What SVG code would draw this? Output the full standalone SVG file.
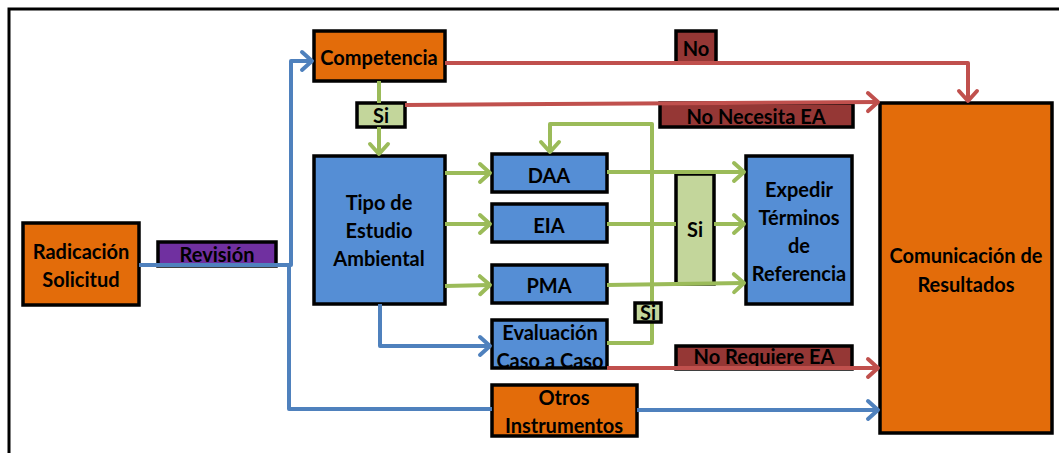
<svg xmlns="http://www.w3.org/2000/svg" width="1059" height="453" viewBox="0 0 1059 453">
  <style>
    .box { stroke: #000; stroke-width: 3.5; }
    .orange { fill: #E36C0A; }
    .blue { fill: #558ED5; }
    .lgreen { fill: #C3D69B; }
    .dred { fill: #953735; }
    .purple { fill: #7030A0; }
    text { font-family: Lato, "Liberation Sans", Arial, sans-serif; font-weight: bold; font-size: 20px; fill: #000; text-anchor: middle; dominant-baseline: central; }
    .c { fill: none; stroke-width: 4; stroke-linejoin: round; }
    .cb { stroke: #4F81BD; }
    .cg { stroke: #9BBB59; }
    .cr { stroke: #C0504D; }
  </style>
  <defs>
    <marker id="ab" markerUnits="userSpaceOnUse" markerWidth="16" markerHeight="22" refX="13" refY="11" orient="auto" overflow="visible">
      <path d="M3,2 L13,11 L3,20" fill="none" stroke="#4F81BD" stroke-width="4" stroke-linecap="round" stroke-linejoin="round"/>
    </marker>
    <marker id="ag" markerUnits="userSpaceOnUse" markerWidth="16" markerHeight="22" refX="13" refY="11" orient="auto" overflow="visible">
      <path d="M3,2 L13,11 L3,20" fill="none" stroke="#9BBB59" stroke-width="4" stroke-linecap="round" stroke-linejoin="round"/>
    </marker>
    <marker id="ar" markerUnits="userSpaceOnUse" markerWidth="16" markerHeight="22" refX="13" refY="11" orient="auto" overflow="visible">
      <path d="M3,2 L13,11 L3,20" fill="none" stroke="#C0504D" stroke-width="4" stroke-linecap="round" stroke-linejoin="round"/>
    </marker>
  </defs>

  <rect width="1059" height="453" fill="#fff"/>
  <!-- outer frame -->
  <path d="M9,453 V9 H1059" fill="none" stroke="#000" stroke-width="3"/>

  <!-- label boxes that connectors run over -->
  <g id="lbl-revision"><rect class="box purple" x="158" y="242" width="118" height="24"/><text x="217" y="254">Revisión</text></g>
  <g id="lbl-no"><rect class="box dred" x="676" y="31" width="40" height="32"/><text x="696" y="48">No</text></g>
  <g id="lbl-no-necesita"><rect class="box dred" x="660" y="103" width="193" height="24"/><text x="756" y="116">No Necesita EA</text></g>
  <g id="lbl-no-requiere"><rect class="box dred" x="676" y="346" width="176" height="23"/><text x="764" y="356">No Requiere EA</text></g>
  <g id="lbl-si-v"><rect class="box lgreen" x="676" y="174" width="38" height="110"/><text x="695" y="229">Si</text></g>

  <!-- nodes -->
  <g id="radicacion"><rect class="box orange" x="23" y="223" width="116" height="82"/><text x="81" y="251">Radicación</text><text x="81" y="279">Solicitud</text></g>
  <g id="competencia"><rect class="box orange" x="314" y="31" width="131" height="50"/><text x="379" y="57">Competencia</text></g>
  <g id="tipo"><rect class="box blue" x="314" y="156" width="131" height="148"/><text x="379" y="202">Tipo de</text><text x="379" y="230">Estudio</text><text x="379" y="258">Ambiental</text></g>
  <g id="daa"><rect class="box blue" x="492" y="154" width="115" height="38"/><text x="549" y="175">DAA</text></g>
  <g id="eia"><rect class="box blue" x="492" y="204" width="115" height="38"/><text x="549" y="225">EIA</text></g>
  <g id="pma"><rect class="box blue" x="492" y="265" width="115" height="38"/><text x="549" y="285">PMA</text></g>
  <g id="evaluacion"><rect class="box blue" x="492" y="320" width="115" height="48"/><text x="550" y="332">Evaluación</text><text x="550" y="360">Caso a Caso</text></g>
  <g id="otros"><rect class="box orange" x="492" y="385" width="145" height="51"/><text x="564" y="397">Otros</text><text x="564" y="425">Instrumentos</text></g>
  <g id="expedir"><rect class="box blue" x="746" y="156" width="106" height="148"/><text x="799" y="189">Expedir</text><text x="799" y="217">Términos</text><text x="799" y="245">de</text><text x="799" y="273">Referencia</text></g>
  <g id="comunicacion"><rect class="box orange" x="880" y="103" width="172" height="330"/><text x="966" y="255">Comunicación de</text><text x="966" y="284">Resultados</text></g>
  <g id="si-top"><rect class="box lgreen" x="357" y="103" width="48" height="24"/><text x="381" y="115">Si</text></g>

  <!-- connectors -->
  <g id="connectors">
    <path class="c cb" d="M139,265 H291 V61 H312" marker-end="url(#ab)"/>
    <path class="c cb" d="M289,265 V409 H492"/>
    <path class="c cb" d="M380,304 V346 H490" marker-end="url(#ab)"/>
    <path class="c cb" d="M637,410 H878" marker-end="url(#ab)"/>

    <path class="c cg" d="M379,81 V103"/>
    <path class="c cg" d="M379,127 V154" marker-end="url(#ag)"/>
    <path class="c cg" d="M445,173 H490" marker-end="url(#ag)"/>
    <path class="c cg" d="M445,224 H490" marker-end="url(#ag)"/>
    <path class="c cg" d="M445,286 L490,285" marker-end="url(#ag)"/>
    <path class="c cg" d="M607,343 H652 V124 H550 V152" marker-end="url(#ag)"/>
    <path class="c cg" d="M607,172 H744" marker-end="url(#ag)"/>
    <path class="c cg" d="M607,224 H676"/>
    <path class="c cg" d="M714,224 H744" marker-end="url(#ag)"/>
    <path class="c cg" d="M607,285 L744,283" marker-end="url(#ag)"/>

    <path class="c cr" d="M445,63 H968 V101" marker-end="url(#ar)"/>
    <path class="c cr" d="M405,105 L878,102" marker-end="url(#ar)"/>
    <path class="c cr" d="M607,368 H878" marker-end="url(#ar)"/>
  </g>

  <g id="lbl-si-small"><rect class="box lgreen" x="635" y="303" width="26" height="19"/><text x="648" y="312">Si</text></g>
</svg>
